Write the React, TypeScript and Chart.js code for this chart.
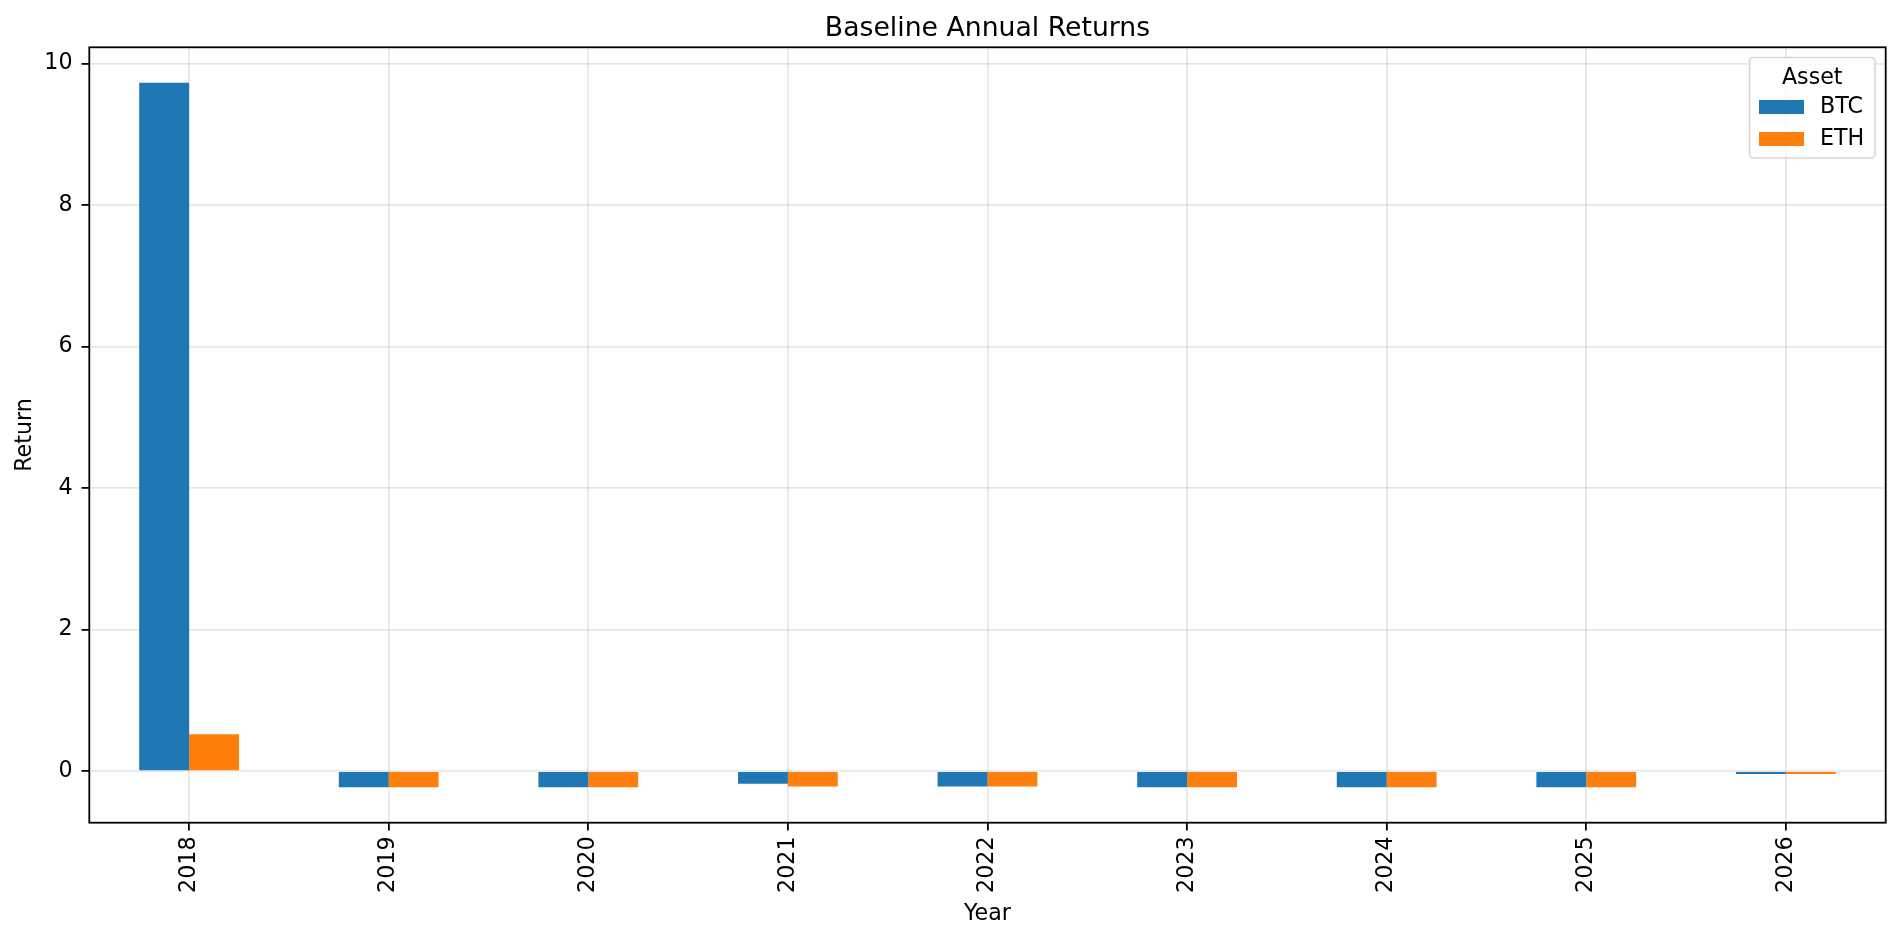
import { useEffect, useRef } from "react"
import { Chart, registerables, type Plugin } from "chart.js"

Chart.register(...registerables)

const years = ["2018", "2019", "2020", "2021", "2022", "2023", "2024", "2025", "2026"]
const btcReturns = [9.73, -0.23, -0.23, -0.18, -0.22, -0.23, -0.23, -0.23, -0.04]
const ethReturns = [0.52, -0.23, -0.23, -0.22, -0.22, -0.23, -0.23, -0.23, -0.04]
const yTicks = [0, 2, 4, 6, 8, 10]
const yMin = -0.73
const yMax = 10.23

const FONT = "'DejaVu Sans', 'Liberation Sans', sans-serif"
const BLUE = "#1f77b4"
const ORANGE = "#ff7f0e"
const LABEL_SIZE = 22.2
const LINE_W = 1.78

// title, spines and legend drawn the way matplotlib places them
const framePlugin: Plugin = {
  id: "frame",
  afterDraw(chart) {
    const { ctx, chartArea: a } = chart
    ctx.save()

    // spines
    ctx.strokeStyle = "#000"
    ctx.lineWidth = LINE_W
    ctx.strokeRect(a.left, a.top, a.right - a.left, a.bottom - a.top)

    // title, centred over the axes
    ctx.fillStyle = "#000"
    ctx.font = `26.7px ${FONT}`
    ctx.textAlign = "center"
    ctx.textBaseline = "alphabetic"
    ctx.fillText("Baseline Annual Returns", (a.left + a.right) / 2, 36)

    // legend
    const bx = 1749.5
    const by = 57.5
    const bw = 125.5
    const bh = 100.5
    ctx.beginPath()
    ctx.roundRect(bx, by, bw, bh, 4)
    ctx.fillStyle = "rgba(255,255,255,0.8)"
    ctx.fill()
    ctx.strokeStyle = "rgba(204,204,204,0.8)"
    ctx.lineWidth = 1.6
    ctx.stroke()

    ctx.fillStyle = "#000"
    ctx.font = `${LABEL_SIZE}px ${FONT}`
    ctx.textAlign = "center"
    ctx.textBaseline = "middle"
    ctx.fillText("Asset", bx + bw / 2, 78)

    ctx.textAlign = "left"
    chart.data.datasets.forEach((ds, i) => {
      const cy = 107 + i * 32
      ctx.fillStyle = ds.backgroundColor as string
      ctx.fillRect(1759, cy - 7, 45, 14)
      ctx.fillStyle = "#000"
      ctx.fillText(ds.label ?? "", 1820, cy)
    })

    ctx.restore()
  },
}

export default function App() {
  const canvasRef = useRef<HTMLCanvasElement>(null)
  const chartRef = useRef<Chart>()

  useEffect(() => {
    document.body.style.margin = "0"
    if (!canvasRef.current) return
    if (chartRef.current) chartRef.current.destroy()

    const ctx = canvasRef.current.getContext("2d")
    if (!ctx) return

    const gridColor = "rgba(176,176,176,0.3)"
    const tickFont = { family: FONT, size: LABEL_SIZE }

    chartRef.current = new Chart(ctx, {
      type: "bar",
      data: {
        labels: years,
        datasets: [
          {
            label: "BTC",
            data: btcReturns,
            backgroundColor: BLUE,
            borderWidth: 0,
            categoryPercentage: 0.5,
            barPercentage: 1.0,
          },
          {
            label: "ETH",
            data: ethReturns,
            backgroundColor: ORANGE,
            borderWidth: 0,
            categoryPercentage: 0.5,
            barPercentage: 1.0,
          },
        ],
      },
      options: {
        responsive: true,
        maintainAspectRatio: false,
        animation: false,
        layout: { padding: { left: 0, right: 15.3, top: 47.3, bottom: 0 } },
        plugins: {
          legend: { display: false },
          tooltip: { enabled: false },
          title: { display: false },
        },
        scales: {
          x: {
            z: 1,
            offset: true,
            border: { display: false },
            grid: {
              offset: false,
              color: gridColor,
              lineWidth: LINE_W,
              tickLength: 7.8,
              tickColor: "#000",
              tickWidth: LINE_W,
            },
            ticks: {
              autoSkip: false,
              minRotation: 90,
              maxRotation: 90,
              padding: 6,
              color: "#000",
              font: tickFont,
            },
            title: {
              display: true,
              text: "Year",
              color: "#000",
              font: tickFont,
              padding: { top: 0, bottom: 12.5 },
            },
            afterFit: (scale) => {
              scale.height = 117.3
            },
          },
          y: {
            z: 1,
            min: yMin,
            max: yMax,
            border: { display: false },
            grid: {
              color: gridColor,
              lineWidth: LINE_W,
              tickLength: 7.8,
              tickColor: "#000",
              tickWidth: LINE_W,
            },
            ticks: {
              padding: 9,
              color: "#000",
              font: tickFont,
            },
            afterBuildTicks: (axis) => {
              axis.ticks = yTicks.map((v) => ({ value: v }))
            },
            title: {
              display: true,
              text: "Return",
              color: "#000",
              font: tickFont,
              padding: { top: 11.7, bottom: 0 },
            },
            afterFit: (scale) => {
              scale.width = 89.3
            },
          },
        },
      },
      plugins: [framePlugin],
    })

    return () => {
      if (chartRef.current) chartRef.current.destroy()
    }
  }, [])

  return (
    <div style={{ position: "relative", width: "1901px", height: "940px", background: "#fff" }}>
      <canvas ref={canvasRef} />
    </div>
  )
}
